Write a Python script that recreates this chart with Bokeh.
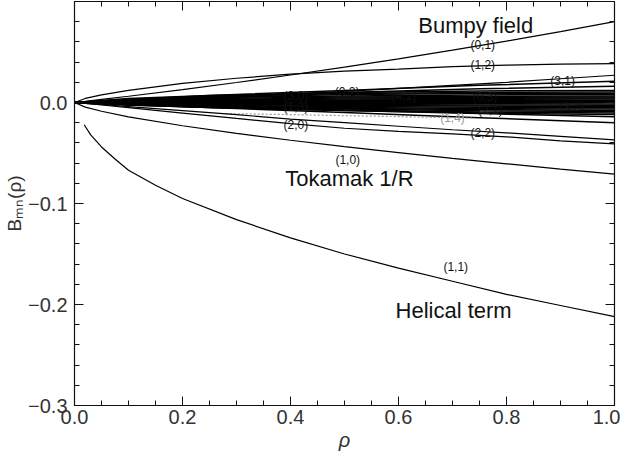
from bokeh.plotting import figure
from bokeh.models import FixedTicker, LinearAxis, Range1d, Label, CustomJSTickFormatter
from bokeh.embed import file_html
from bokeh.resources import INLINE

# ---------------- data ----------------
rho = [0.0, 0.02, 0.05, 0.1, 0.2, 0.3, 0.4, 0.5, 0.6, 0.7, 0.8, 0.9, 1.0]

b_0_1 = [0.0, 0.0012, 0.0031, 0.0062, 0.0128, 0.0198, 0.0272, 0.035, 0.0432, 0.0518, 0.0608, 0.0702, 0.080]
b_1_2 = [0.0, 0.004, 0.0075, 0.012, 0.019, 0.024, 0.028, 0.031, 0.033, 0.0355, 0.037, 0.038, 0.0385]
b_3_1 = [0.0, 0.0002, 0.0005, 0.0014, 0.0033, 0.0056, 0.0082, 0.011, 0.014, 0.0169, 0.020, 0.0235, 0.027]
b_2_2 = [0.0, -0.001, -0.0025, -0.005, -0.0105, -0.0158, -0.021, -0.0255, -0.0285, -0.031, -0.034, -0.038, -0.041]
b_2_0 = [0.0, -0.0008, -0.002, -0.004, -0.008, -0.012, -0.0165, -0.020, -0.0235, -0.027, -0.030, -0.0335, -0.037]
b_1_0 = [0.0, -0.0046, -0.0087, -0.0142, -0.023, -0.0306, -0.0374, -0.0437, -0.0496, -0.0553, -0.0607, -0.066, -0.071]

rho_h = [0.018, 0.03, 0.05, 0.075, 0.1, 0.15, 0.2, 0.3, 0.4, 0.5, 0.6, 0.7, 0.8, 0.9, 1.0]
b_1_1 = [-0.022, -0.032, -0.044, -0.056, -0.067, -0.082, -0.095, -0.116, -0.134, -0.150, -0.164, -0.177, -0.190, -0.201, -0.212]

rho_d = [0.28, 0.4, 0.5, 0.6, 0.74]
b_dotted = [-0.011, -0.012, -0.013, -0.014, -0.0155]

# the dense bundle of small harmonics around zero
rho_b = [0.0, 0.1, 0.25, 0.5, 0.75, 1.0]
bundle = [
    [0, 0.003, 0.007, 0.012, 0.017, 0.021],
    [0, 0.0025, 0.006, 0.010, 0.0135, 0.016],
    [0, 0.004, 0.007, 0.010, 0.0115, 0.012],
    [0, 0.003, 0.006, 0.009, 0.010, 0.0105],
    [0, 0.002, 0.005, 0.008, 0.009, 0.009],
    [0, 0.003, 0.005, 0.0065, 0.0075, 0.008],
    [0, 0.002, 0.004, 0.0055, 0.006, 0.0065],
    [0, 0.001, 0.003, 0.0045, 0.005, 0.0055],
    [0, 0.0015, 0.0025, 0.0035, 0.004, 0.0045],
    [0, 0.001, 0.002, 0.0025, 0.003, 0.0035],
    [0, 0.0008, 0.0012, 0.0018, 0.002, 0.0022],
    [0, 0.0005, 0.0008, 0.001, 0.0012, 0.0012],
    [0, 0.0, 0.0002, 0.0002, 0.0001, 0.0],
    [0, -0.0005, -0.0008, -0.0012, -0.0013, -0.0015],
    [0, -0.0008, -0.0015, -0.002, -0.0025, -0.0028],
    [0, -0.001, -0.002, -0.003, -0.0035, -0.004],
    [0, -0.0015, -0.0028, -0.004, -0.0047, -0.0052],
    [0, -0.002, -0.0035, -0.005, -0.006, -0.0065],
    [0, -0.0015, -0.0035, -0.006, -0.007, -0.0078],
    [0, -0.002, -0.004, -0.0065, -0.0082, -0.009],
    [0, -0.0025, -0.005, -0.0075, -0.0095, -0.0105],
    [0, -0.002, -0.0045, -0.008, -0.0105, -0.012],
    [0, -0.002, -0.005, -0.010, -0.015, -0.020],
    [0, -0.0025, -0.005, -0.008, -0.011, -0.014],
]

x_major = [0.0, 0.2, 0.4, 0.6, 0.8, 1.0]
x_minor = [0.05, 0.1, 0.15, 0.25, 0.3, 0.35, 0.45, 0.5, 0.55, 0.65, 0.7, 0.75, 0.85, 0.9, 0.95]
y_major = [-0.3, -0.2, -0.1, 0.0]
y_minor = [-0.28, -0.26, -0.24, -0.22, -0.18, -0.16, -0.14, -0.12, -0.08, -0.06, -0.04, -0.02,
           0.02, 0.04, 0.06, 0.08, 0.1]

# ---------------- figure ----------------
FONT = "Liberation Sans"
INK = "#111111"

p = figure(frame_width=540, frame_height=404, output_backend="svg", toolbar_location=None,
           x_range=Range1d(0, 1), y_range=Range1d(-0.3, 0.1),
           min_border_left=74, min_border_right=6, min_border_top=1, min_border_bottom=47,
           background_fill_color="white", border_fill_color="white")
p.outline_line_color = INK
p.outline_line_width = 1.2
p.grid.visible = False

fmt = CustomJSTickFormatter(code="return tick.toFixed(1).replace('-', '\u2212');")
blank = CustomJSTickFormatter(code="return '';")

p.xaxis.ticker = FixedTicker(ticks=x_major, minor_ticks=x_minor)
p.yaxis.ticker = FixedTicker(ticks=y_major, minor_ticks=y_minor)
for ax in (p.xaxis[0], p.yaxis[0]):
    ax.formatter = fmt
    ax.major_tick_in = 9
    ax.major_tick_out = 0
    ax.minor_tick_in = 5
    ax.minor_tick_out = 0
    ax.axis_line_color = INK
    ax.major_tick_line_color = INK
    ax.minor_tick_line_color = INK
    ax.major_label_text_font = FONT
    ax.major_label_text_font_size = "20px"
    ax.major_label_text_color = "#333333"
    ax.axis_label_text_font = FONT
    ax.axis_label_text_font_style = "normal"
    ax.axis_label_text_color = "#333333"
p.xaxis.major_label_standoff = 4
p.yaxis.major_label_standoff = 7
p.xaxis.axis_label = "ρ"
p.xaxis.axis_label_text_font_style = "italic"
p.xaxis.axis_label_text_font_size = "20px"
p.xaxis.axis_label_standoff = 2
p.yaxis.axis_label = "B\u2098\u2099(ρ)"
p.yaxis.axis_label_text_font_size = "19px"
p.yaxis.axis_label_standoff = 0

top = LinearAxis(ticker=FixedTicker(ticks=x_major, minor_ticks=x_minor), formatter=blank)
right = LinearAxis(ticker=FixedTicker(ticks=y_major, minor_ticks=y_minor), formatter=blank)
for ax in (top, right):
    ax.major_tick_in = 9
    ax.major_tick_out = 0
    ax.minor_tick_in = 5
    ax.minor_tick_out = 0
    ax.axis_line_color = INK
    ax.major_tick_line_color = INK
    ax.minor_tick_line_color = INK
    ax.major_label_text_font_size = "1px"
    ax.major_label_standoff = 0
p.add_layout(top, "above")
p.add_layout(right, "right")

# ---------------- curves ----------------
for ys in bundle:
    p.line(rho_b, ys, line_color="black", line_width=1.5)
p.line(rho_d, b_dotted, line_color="#999999", line_width=1.2, line_dash="2 2")
for ys in (b_0_1, b_1_2, b_3_1, b_2_2, b_2_0, b_1_0):
    p.line(rho, ys, line_color="black", line_width=1.2)
p.line(rho_h, b_1_1, line_color="black", line_width=1.2)

# ---------------- annotations ----------------
def lab(x, y, t, size, color=INK):
    p.add_layout(Label(x=x, y=y, text=t, text_font=FONT, text_font_size=size,
                       text_color=color, text_align="center", text_baseline="middle"))

lab(0.743, 0.076, "Bumpy field", "22px")
lab(0.509, -0.075, "Tokamak 1/R", "22px")
lab(0.702, -0.206, "Helical term", "22px")

small = "12px"
lab(0.756, 0.057, "(0,1)", small)
lab(0.756, 0.0375, "(1,2)", small)
lab(0.904, 0.021, "(3,1)", small)
lab(0.756, -0.030, "(2,2)", small)
lab(0.506, -0.057, "(1,0)", small)
lab(0.706, -0.163, "(1,1)", small)
lab(0.41, -0.022, "(2,0)", small)
lab(0.505, 0.010, "(0,2)", small)
lab(0.41, 0.006, "(3,0)", small)
lab(0.41, -0.004, "(1,3)", small)
lab(0.61, 0.006, "(4,1)", small)
lab(0.76, 0.005, "(0,3)", small)
lab(0.77, -0.007, "(2,1)", small)
lab(0.92, -0.004, "(3,2)", small)
lab(0.70, -0.015, "(1,4)", small, "#999999")

open("out.html", "w").write(file_html(p, INLINE))
